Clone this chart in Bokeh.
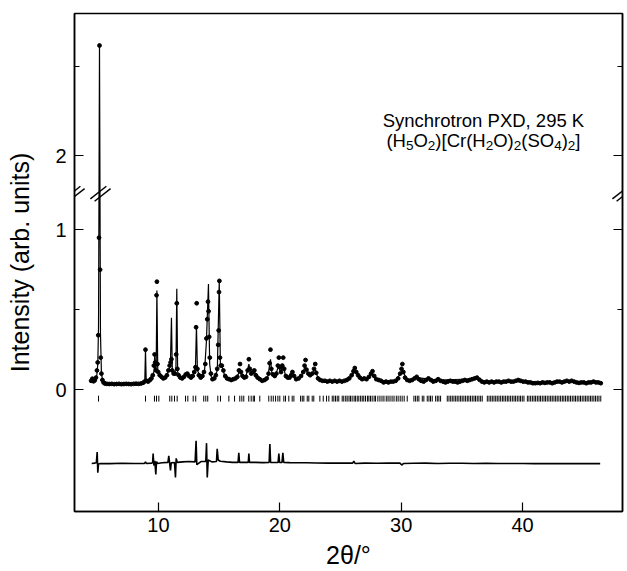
import numpy as np
from bokeh.plotting import figure
from bokeh.models import Range1d, FixedTicker, LinearAxis, Label, Arrow, ColumnDataSource
from bokeh.embed import file_html
from bokeh.resources import INLINE

# ---------------- data ----------------
# observed points (2theta, intensity)
OBS = [
    (4.45, 0.055), (4.55, 0.068), (4.65, 0.052), (4.75, 0.058), (4.85, 0.075), (4.93, 0.12),
    (4.99, 0.17), (5.04, 0.34), (5.10, 0.95), (5.14, 2.62), (5.19, 0.75), (5.24, 0.20),
    (5.30, 0.10), (5.38, 0.06), (5.47, 0.045), (5.58, 0.038),
    (5.75, 0.036), (5.95, 0.035), (6.15, 0.036), (6.35, 0.034), (6.55, 0.035), (6.75, 0.036),
    (6.95, 0.034), (7.15, 0.035), (7.35, 0.036), (7.55, 0.035), (7.75, 0.034), (7.95, 0.036),
    (8.15, 0.037), (8.35, 0.036), (8.55, 0.038), (8.72, 0.042), (8.85, 0.05), (8.93, 0.25),
    (9.01, 0.055), (9.15, 0.05), (9.30, 0.06), (9.42, 0.07), (9.53, 0.09), (9.62, 0.15),
    (9.68, 0.22), (9.73, 0.17), (9.79, 0.12), (9.84, 0.59), (9.87, 0.675), (9.92, 0.16),
    (9.98, 0.11), (10.10, 0.09), (10.25, 0.08), (10.40, 0.07), (10.55, 0.075), (10.70, 0.09),
    (10.82, 0.12), (10.92, 0.15), (11.00, 0.17), (11.07, 0.19), (11.13, 0.12), (11.25, 0.10),
    (11.37, 0.10), (11.46, 0.22), (11.51, 0.54), (11.56, 0.13), (11.66, 0.09), (11.80, 0.075),
    (11.95, 0.07), (12.10, 0.08), (12.25, 0.095), (12.38, 0.10), (12.52, 0.085), (12.68, 0.075),
    (12.82, 0.085), (12.95, 0.11), (13.05, 0.14), (13.10, 0.39), (13.15, 0.54), (13.21, 0.13),
    (13.33, 0.09), (13.48, 0.075), (13.62, 0.085), (13.75, 0.11), (13.86, 0.16), (13.95, 0.32),
    (14.02, 0.44), (14.08, 0.55), (14.13, 0.49), (14.18, 0.33), (14.23, 0.20), (14.32, 0.10),
    (14.45, 0.065), (14.60, 0.07), (14.73, 0.09), (14.84, 0.13), (14.92, 0.28), (14.96, 0.37),
    (14.99, 0.61), (15.02, 0.68), (15.07, 0.20), (15.13, 0.15), (15.22, 0.15), (15.35, 0.12),
    (15.50, 0.085), (15.65, 0.07), (15.82, 0.065), (16.00, 0.06), (16.18, 0.065), (16.35, 0.07),
    (16.50, 0.08), (16.63, 0.12), (16.72, 0.16), (16.80, 0.11), (16.93, 0.085), (17.08, 0.075),
    (17.22, 0.08), (17.35, 0.12), (17.45, 0.19), (17.53, 0.13), (17.65, 0.10), (17.78, 0.11),
    (17.90, 0.12), (18.02, 0.09), (18.17, 0.075), (18.35, 0.065), (18.55, 0.055), (18.75, 0.06),
    (18.92, 0.07), (19.07, 0.10), (19.16, 0.165), (19.23, 0.25), (19.30, 0.13), (19.43, 0.095),
    (19.58, 0.085), (19.72, 0.10), (19.84, 0.15), (19.92, 0.20), (20.00, 0.14), (20.10, 0.11),
    (20.20, 0.15), (20.28, 0.20), (20.36, 0.13), (20.50, 0.085), (20.65, 0.075), (20.80, 0.075),
    (20.93, 0.09), (21.04, 0.11), (21.18, 0.085), (21.35, 0.065), (21.55, 0.07), (21.75, 0.085),
    (21.93, 0.11), (22.04, 0.15), (22.12, 0.185), (22.20, 0.125), (22.35, 0.10), (22.50, 0.09),
    (22.67, 0.10), (22.82, 0.13), (22.92, 0.16), (23.00, 0.105), (23.15, 0.07), (23.32, 0.06),
    (23.52, 0.055), (23.72, 0.055), (23.92, 0.05), (24.12, 0.055), (24.32, 0.05), (24.52, 0.055),
    (24.72, 0.05), (24.92, 0.055), (25.12, 0.05), (25.32, 0.055), (25.52, 0.06), (25.72, 0.07),
    (25.92, 0.09), (26.07, 0.115), (26.18, 0.135), (26.30, 0.11), (26.45, 0.09), (26.60, 0.075),
    (26.78, 0.065), (26.96, 0.07), (27.15, 0.065), (27.35, 0.08), (27.52, 0.10), (27.64, 0.115),
    (27.78, 0.085), (27.95, 0.065), (28.15, 0.06), (28.35, 0.055), (28.55, 0.045), (28.75, 0.05),
    (28.95, 0.045), (29.15, 0.05), (29.35, 0.05), (29.55, 0.055), (29.75, 0.07), (29.92, 0.10),
    (30.03, 0.13), (30.10, 0.16), (30.18, 0.11), (30.32, 0.075), (30.50, 0.06), (30.70, 0.055),
    (30.90, 0.06), (31.10, 0.07), (31.28, 0.08), (31.45, 0.065), (31.65, 0.055), (31.85, 0.05),
    (32.05, 0.06), (32.25, 0.07), (32.45, 0.06), (32.65, 0.05), (32.85, 0.055), (33.05, 0.065),
    (33.25, 0.055), (33.45, 0.05), (33.65, 0.045), (33.85, 0.05), (34.05, 0.055), (34.25, 0.05),
    (34.45, 0.05), (34.65, 0.045), (34.85, 0.05), (35.05, 0.055), (35.25, 0.06), (35.45, 0.055),
    (35.65, 0.06), (35.85, 0.065), (36.05, 0.07), (36.25, 0.075), (36.45, 0.062), (36.65, 0.05),
    (36.85, 0.045), (37.05, 0.05), (37.25, 0.045), (37.45, 0.05), (37.65, 0.045), (37.85, 0.05),
    (38.05, 0.05), (38.25, 0.045), (38.45, 0.05), (38.65, 0.05), (38.85, 0.055), (39.05, 0.05),
    (39.25, 0.05), (39.45, 0.055), (39.65, 0.06), (39.85, 0.055), (40.05, 0.05), (40.25, 0.05),
    (40.45, 0.045), (40.65, 0.045), (40.85, 0.04), (41.05, 0.04), (41.25, 0.042), (41.45, 0.04),
    (41.65, 0.045), (41.85, 0.042), (42.05, 0.045), (42.25, 0.045), (42.45, 0.04), (42.65, 0.045),
    (42.85, 0.05), (43.05, 0.05), (43.25, 0.045), (43.45, 0.05), (43.65, 0.055), (43.85, 0.05),
    (44.05, 0.055), (44.25, 0.05), (44.45, 0.045), (44.65, 0.042), (44.85, 0.045), (45.05, 0.045),
    (45.25, 0.04), (45.45, 0.045), (45.65, 0.045), (45.85, 0.05), (46.05, 0.045), (46.25, 0.045),
    (46.45, 0.04),
]

# calculated profile (2theta, intensity)
CALC = [
    (4.45, 0.055), (4.80, 0.06), (4.92, 0.09), (5.00, 0.16), (5.06, 0.40), (5.14, 2.62),
    (5.22, 0.35), (5.30, 0.10), (5.42, 0.05), (5.60, 0.038), (7.00, 0.035), (8.60, 0.038),
    (8.87, 0.045), (8.93, 0.25), (8.99, 0.05), (9.30, 0.06), (9.55, 0.085), (9.64, 0.12),
    (9.69, 0.21), (9.75, 0.12), (9.81, 0.13), (9.87, 0.62), (9.94, 0.13), (10.10, 0.09),
    (10.50, 0.075), (10.80, 0.11), (10.98, 0.15), (11.07, 0.45), (11.14, 0.12), (11.35, 0.11),
    (11.44, 0.14), (11.51, 0.63), (11.58, 0.11), (11.80, 0.075), (12.10, 0.08), (12.36, 0.10),
    (12.60, 0.08), (12.90, 0.10), (13.05, 0.14), (13.13, 0.40), (13.21, 0.12), (13.50, 0.075),
    (13.80, 0.12), (13.95, 0.30), (14.12, 0.66), (14.22, 0.16), (14.35, 0.08), (14.55, 0.065),
    (14.85, 0.12), (15.01, 0.68), (15.10, 0.16), (15.25, 0.14), (15.45, 0.09), (15.80, 0.065),
    (16.40, 0.07), (16.60, 0.10), (16.70, 0.13), (16.82, 0.09), (17.20, 0.08), (17.45, 0.16),
    (17.58, 0.10), (17.78, 0.11), (17.92, 0.11), (18.10, 0.075), (18.60, 0.055), (19.00, 0.075),
    (19.23, 0.19), (19.35, 0.10), (19.65, 0.09), (19.90, 0.15), (20.05, 0.11), (20.28, 0.16),
    (20.45, 0.09), (20.80, 0.075), (21.04, 0.10), (21.30, 0.065), (21.80, 0.085), (22.10, 0.15),
    (22.30, 0.10), (22.55, 0.09), (22.90, 0.13), (23.15, 0.07), (23.60, 0.055), (25.50, 0.055),
    (25.90, 0.08), (26.18, 0.12), (26.50, 0.085), (27.00, 0.065), (27.62, 0.10), (28.00, 0.06),
    (29.50, 0.05), (30.10, 0.12), (30.50, 0.06), (31.30, 0.075), (32.30, 0.065), (33.10, 0.06),
    (36.30, 0.068), (37.00, 0.048), (40.00, 0.05), (41.50, 0.042), (44.00, 0.052), (46.45, 0.042),
]

# difference curve (2theta, obs - calc, plotted with offset)
DIFF = [
    (4.50, -0.462), (4.70, -0.460), (4.88, -0.458), (4.95, -0.390), (5.00, -0.520), (5.06, -0.465),
    (5.20, -0.462), (6.00, -0.463), (7.00, -0.461), (8.00, -0.462), (8.85, -0.462), (8.93, -0.452),
    (9.00, -0.462), (9.45, -0.460), (9.52, -0.455), (9.56, -0.400), (9.62, -0.475), (9.70, -0.445),
    (9.78, -0.530), (9.84, -0.450), (9.92, -0.462), (10.30, -0.458), (10.78, -0.455), (10.85, -0.415),
    (10.92, -0.460), (10.99, -0.505), (11.05, -0.458), (11.32, -0.456), (11.40, -0.550), (11.46, -0.430),
    (11.55, -0.455), (12.00, -0.452), (12.50, -0.450), (13.02, -0.452), (13.10, -0.320), (13.16, -0.470),
    (13.50, -0.450), (13.90, -0.450), (13.96, -0.335), (14.02, -0.550), (14.10, -0.440), (14.40, -0.452),
    (14.78, -0.450), (14.84, -0.370), (14.92, -0.440), (15.10, -0.448), (15.60, -0.452), (16.10, -0.455),
    (16.56, -0.455), (16.62, -0.395), (16.68, -0.455), (17.00, -0.455), (17.40, -0.455), (17.45, -0.400),
    (17.50, -0.455), (18.00, -0.455), (18.60, -0.457), (19.12, -0.455), (19.18, -0.340), (19.24, -0.456),
    (19.60, -0.456), (19.86, -0.455), (19.92, -0.400), (19.98, -0.456), (20.18, -0.456), (20.25, -0.395),
    (20.32, -0.456), (20.80, -0.457), (21.50, -0.458), (22.20, -0.458), (23.00, -0.459), (24.00, -0.460),
    (25.00, -0.459), (26.00, -0.460), (26.10, -0.448), (26.20, -0.462), (27.00, -0.460), (28.00, -0.461),
    (29.00, -0.460), (29.90, -0.460), (30.05, -0.472), (30.20, -0.462), (31.00, -0.461), (32.00, -0.460),
    (33.00, -0.462), (34.00, -0.461), (35.00, -0.461), (36.00, -0.462), (37.00, -0.461), (38.00, -0.462),
    (39.00, -0.462), (40.00, -0.462), (41.00, -0.463), (42.00, -0.462), (43.00, -0.463), (44.00, -0.462),
    (45.00, -0.463), (46.40, -0.463),
]

# Bragg reflection positions (2theta)
REFLECTIONS = [
    5.06, 8.93, 9.67, 9.84, 10.03, 10.93, 11.10, 11.32, 11.54, 12.23, 12.42, 12.86, 13.07,
    13.73, 13.90, 14.06, 14.89, 15.11, 15.80, 16.27, 16.70, 16.87, 17.03, 17.44, 17.64, 17.81,
    17.91, 18.35, 19.09, 19.29, 19.46, 19.65, 19.84, 20.00, 20.33, 20.47, 20.74, 21.02, 21.16,
    21.71, 21.85, 21.98, 22.26, 22.39, 22.67, 22.80, 23.30, 23.58, 23.85, 24.04, 24.32, 24.45,
    24.59, 24.73, 24.86, 25.14, 25.27, 25.43, 25.55, 25.70, 25.82, 25.96, 26.12, 26.23, 26.38,
    26.51, 26.66, 26.79, 26.92, 27.06, 27.22, 27.34, 27.47, 27.61, 27.77, 27.89, 28.08, 28.25,
    28.42, 28.58, 28.77, 28.92, 29.08, 29.25, 29.41, 29.60, 29.75, 29.92, 30.08, 30.25, 30.50,
    31.05, 31.19, 31.33, 31.46, 31.74, 31.87, 32.15, 32.29, 32.42, 32.56, 32.84, 32.98, 33.11,
    33.25, 33.80, 33.94, 34.08, 34.21, 34.35, 34.49, 34.62, 34.76, 34.90, 35.03, 35.17, 35.31,
    35.45, 35.58, 35.72, 35.86, 36.00, 36.13, 36.27, 36.41, 36.55, 36.68, 37.10, 37.24, 37.38,
    37.51, 37.65, 37.79, 37.92, 38.06, 38.20, 38.34, 38.47, 38.61, 38.75, 38.88, 39.02, 39.16,
    39.30, 39.43, 39.57, 39.71, 39.84, 39.98, 40.12, 40.40, 40.53, 40.67, 40.81, 40.95, 41.08,
    41.22, 41.36, 41.49, 41.63, 41.77, 41.90, 42.04, 42.18, 42.32, 42.45, 42.59, 42.73, 42.86,
    43.00, 43.14, 43.28, 43.41, 43.55, 43.69, 43.82, 43.96, 44.10, 44.24, 44.37, 44.51, 44.65,
    44.78, 44.92, 45.06, 45.20, 45.33, 45.47, 45.61, 45.74, 45.88, 46.02, 46.16, 46.30, 46.45,
]

X_TICKS = [10, 20, 30, 40]
Y_MAJOR = [0, 1, 2]
Y_MINOR = [0.5, 2.5]
Y_LABELS = ["0", "1", "2"]

X_MIN, X_MAX = 3.08, 48.24

# ---------------- broken y axis ----------------
BREAK_LO = 1.225     # top of the lower segment
BREAK_HI = 1.7865    # bottom of the upper segment
UPPER_GAIN = 1.1125  # scale of the upper segment relative to the lower one


def to_disp(v):
    v = np.asarray(v, dtype=float)
    up = BREAK_LO + (v - BREAK_HI) * UPPER_GAIN
    return np.where(v <= BREAK_LO, v, np.where(v >= BREAK_HI, up, BREAK_LO))


Y_MIN, Y_MAX = -0.7625, float(to_disp(2.8))

FONT = "Liberation Sans"
FRAME_W, FRAME_H = 548, 498

p = figure(width=627, height=571, output_backend="svg", toolbar_location=None, title=None,
           x_range=Range1d(X_MIN, X_MAX), y_range=Range1d(Y_MIN, Y_MAX),
           min_border_left=74, min_border_right=5, min_border_top=13, min_border_bottom=60)
p.xgrid.visible = False
p.ygrid.visible = False
p.background_fill_color = "white"
p.border_fill_color = "white"
p.outline_line_color = "black"
p.outline_line_width = 1.5

# x axis
xa = p.xaxis[0]
xa.ticker = FixedTicker(ticks=X_TICKS)
xa.major_tick_in = 9
xa.major_tick_out = 0
xa.minor_tick_in = 0
xa.minor_tick_out = 0
xa.axis_line_width = 1.5
xa.major_tick_line_width = 1.2
xa.major_label_text_font = FONT
xa.major_label_text_font_size = "20px"
xa.major_label_text_color = "black"
xa.major_label_standoff = 6
xa.axis_label = "2θ/°"
xa.axis_label_text_font = FONT
xa.axis_label_text_font_size = "25px"
xa.axis_label_text_font_style = "normal"
xa.axis_label_text_color = "black"
xa.axis_label_standoff = 6

# y axes (left + right)
y_major_disp = [float(v) for v in to_disp(Y_MAJOR)]
y_minor_disp = [float(v) for v in to_disp(Y_MINOR)]
yticker = FixedTicker(ticks=y_major_disp, minor_ticks=y_minor_disp)

ya = p.yaxis[0]
ya.ticker = yticker
ya.major_label_overrides = {v: t for v, t in zip(y_major_disp, Y_LABELS)}
ya.major_tick_in = 9
ya.major_tick_out = 0
ya.minor_tick_in = 5
ya.minor_tick_out = 0
ya.axis_line_width = 1.5
ya.major_tick_line_width = 1.2
ya.minor_tick_line_width = 1.2
ya.major_label_text_font = FONT
ya.major_label_text_font_size = "20px"
ya.major_label_text_color = "black"
ya.major_label_standoff = 8
ya.axis_label = "Intensity (arb. units)"
ya.axis_label_text_font = FONT
ya.axis_label_text_font_size = "25px"
ya.axis_label_text_font_style = "normal"
ya.axis_label_text_color = "black"
ya.axis_label_standoff = 18

ra = LinearAxis(ticker=yticker,
                major_label_overrides={v: "" for v in y_major_disp},
                major_label_text_font_size="0px",
                major_tick_in=9, major_tick_out=0, minor_tick_in=5, minor_tick_out=0,
                major_label_standoff=0, axis_line_width=1.5,
                major_tick_line_width=1.2, minor_tick_line_width=1.2)
p.add_layout(ra, "right")

# ---------------- marks ----------------
obs_x = [a for a, b in OBS]
obs_y = to_disp([b for a, b in OBS])
calc_x = [a for a, b in CALC]
calc_y = to_disp([b for a, b in CALC])
diff_x = [a for a, b in DIFF]
diff_y = [b for a, b in DIFF]

p.line(calc_x, calc_y, line_color="black", line_width=1.2)
p.scatter(obs_x, obs_y, marker="circle", size=3.8, fill_color="black", line_color="black")
p.line(diff_x, diff_y, line_color="black", line_width=1.6)

refl = ColumnDataSource(dict(x=REFLECTIONS))
p.segment(x0="x", y0=-0.038, x1="x", y1=-0.075, source=refl, line_color="black", line_width=1)

# break marks (//) on left axis, on the strong peak and on right axis
xpx = (X_MAX - X_MIN) / FRAME_W
ypx = (Y_MAX - Y_MIN) / FRAME_H
peak_x = OBS[int(np.argmax([b for a, b in OBS]))][0]
for cx in (X_MIN, peak_x + 0.08, X_MAX):
    for s in (-1, 1):
        mx = cx + s * 2.1 * xpx
        my = BREAK_LO - s * 1.15 * ypx
        p.add_layout(Arrow(end=None, start=None,
                           x_start=mx - 8 * xpx, y_start=my - 6.3 * ypx,
                           x_end=mx + 8 * xpx, y_end=my + 6.3 * ypx,
                           line_color="black", line_width=1.4))

# ---------------- texts in the plot ----------------
ANN_X = 36.78
p.add_layout(Label(x=ANN_X, y=1.681, text="Synchrotron PXD, 295 K", text_align="center",
                   text_baseline="alphabetic", text_font=FONT, text_font_size="18.5px",
                   text_color="black"))

FORMULA = [("(H", 0), ("5", 1), ("O", 0), ("2", 1), (")[Cr(H", 0), ("2", 1), ("O)", 0),
           ("2", 1), ("(SO", 0), ("4", 1), (")", 0), ("2", 1), ("]", 0)]
ADV = {"(": 0.333, ")": 0.333, "[": 0.278, "]": 0.278, "H": 0.722, "O": 0.778, "C": 0.722,
       "r": 0.333, "S": 0.667}
MAIN_FS, SUB_FS = 18.5, 13.5


def piece_width(t, sub):
    fs = SUB_FS if sub else MAIN_FS
    return sum(ADV.get(c, 0.556) for c in t) * fs


total = sum(piece_width(t, s) for t, s in FORMULA)
off = -total / 2
for t, s in FORMULA:
    p.add_layout(Label(x=ANN_X, y=1.556, x_offset=off, y_offset=(-5 if s else 0), text=t,
                       text_align="left", text_baseline="alphabetic", text_font=FONT,
                       text_font_size=f"{SUB_FS if s else MAIN_FS}px", text_color="black"))
    off += piece_width(t, s)

open("out.html", "w").write(file_html(p, INLINE))
